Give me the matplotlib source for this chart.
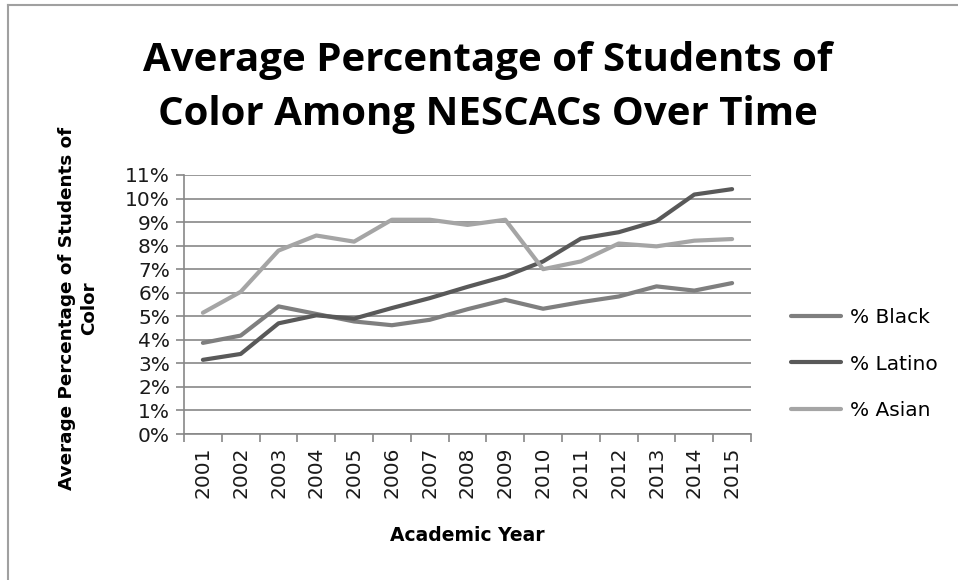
import numpy as np
import matplotlib
matplotlib.use("Agg")
import matplotlib.pyplot as plt
from matplotlib.lines import Line2D

# values (percent)
years = ["2001", "2002", "2003", "2004", "2005", "2006", "2007", "2008",
         "2009", "2010", "2011", "2012", "2013", "2014", "2015"]
pct_black = [3.87, 4.18, 5.42, 5.10, 4.78, 4.62, 4.85, 5.30, 5.70, 5.32,
             5.60, 5.84, 6.27, 6.09, 6.41]
pct_latino = [3.15, 3.40, 4.70, 5.04, 4.90, 5.35, 5.77, 6.25, 6.70, 7.33,
              8.30, 8.57, 9.04, 10.17, 10.40]
pct_asian = [5.15, 6.04, 7.79, 8.43, 8.17, 9.10, 9.10, 8.88, 9.10, 7.00,
             7.33, 8.09, 7.97, 8.21, 8.28]
y_ticks = list(range(0, 12))

series = [
    ("% Black", pct_black, "#7f7f7f"),
    ("% Latino", pct_latino, "#595959"),
    ("% Asian", pct_asian, "#a5a5a5"),
]

grid_col = "#878787"

fig = plt.figure(figsize=(9.58, 5.8), dpi=100)
ax = fig.add_axes([184 / 958, 1 - 434 / 580, (751 - 184) / 958, (434 - 175) / 580])

x = np.arange(len(years))
for name, vals, col in series:
    ax.plot(x, vals, color=col, lw=3.0, label=name,
            solid_capstyle="round", solid_joinstyle="round", zorder=3)

ax.set_xlim(-0.5, len(years) - 0.5)
ax.set_ylim(0, 11)

ax.set_yticks(y_ticks)
ax.set_yticklabels([f"{v}%" for v in y_ticks])
ax.yaxis.grid(True, color=grid_col, lw=1.2)
ax.set_axisbelow(True)

ax.set_xticks(x)
ax.set_xticklabels(years, rotation=90)
ax.set_xticks(np.arange(-0.5, len(years)), minor=True)
ax.tick_params(axis="x", which="major", length=0, pad=9)
ax.tick_params(axis="x", which="minor", length=6, color=grid_col, width=1.2)
ax.tick_params(axis="y", length=6, color=grid_col, width=1.2, pad=4)
ax.tick_params(labelsize=14.5, labelcolor="#1a1a1a")

for side in ["top", "right"]:
    ax.spines[side].set_visible(False)
for side in ["left", "bottom"]:
    ax.spines[side].set_color(grid_col)
    ax.spines[side].set_linewidth(1.2)

ax.set_xlabel("Academic Year", fontsize=13.5, fontweight="bold", labelpad=20)

fig.text(78 / 958, 1 - 308 / 580, "Average Percentage of Students of\nColor",
         rotation=90, ha="center", va="center", fontsize=13.2,
         fontweight="bold", multialignment="center", linespacing=1.35)

fig.text(488 / 958, 1 - 87 / 580,
         "Average Percentage of Students of\nColor Among NESCACs Over Time",
         ha="center", va="center", fontsize=29, fontweight="bold",
         family="Open Sans", linespacing=1.5)

handles = [Line2D([], [], color=c, lw=3.0, solid_capstyle="round")
           for _, _, c in series]
leg = fig.legend(handles, [s[0] for s in series], loc="center left",
                 bbox_to_anchor=(773 / 958, 1 - 364 / 580), frameon=False,
                 fontsize=14.5, handlelength=2.5, handletextpad=0.4,
                 labelspacing=1.37)

# outer chart border
fig.add_artist(Line2D([8 / 958, 8 / 958], [0, 1 - 5 / 580],
                      transform=fig.transFigure, color="#a0a0a0", lw=1.5))
fig.add_artist(Line2D([8 / 958, 1], [1 - 5 / 580, 1 - 5 / 580],
                      transform=fig.transFigure, color="#a0a0a0", lw=1.5))

fig.savefig("out.png", dpi=100)
